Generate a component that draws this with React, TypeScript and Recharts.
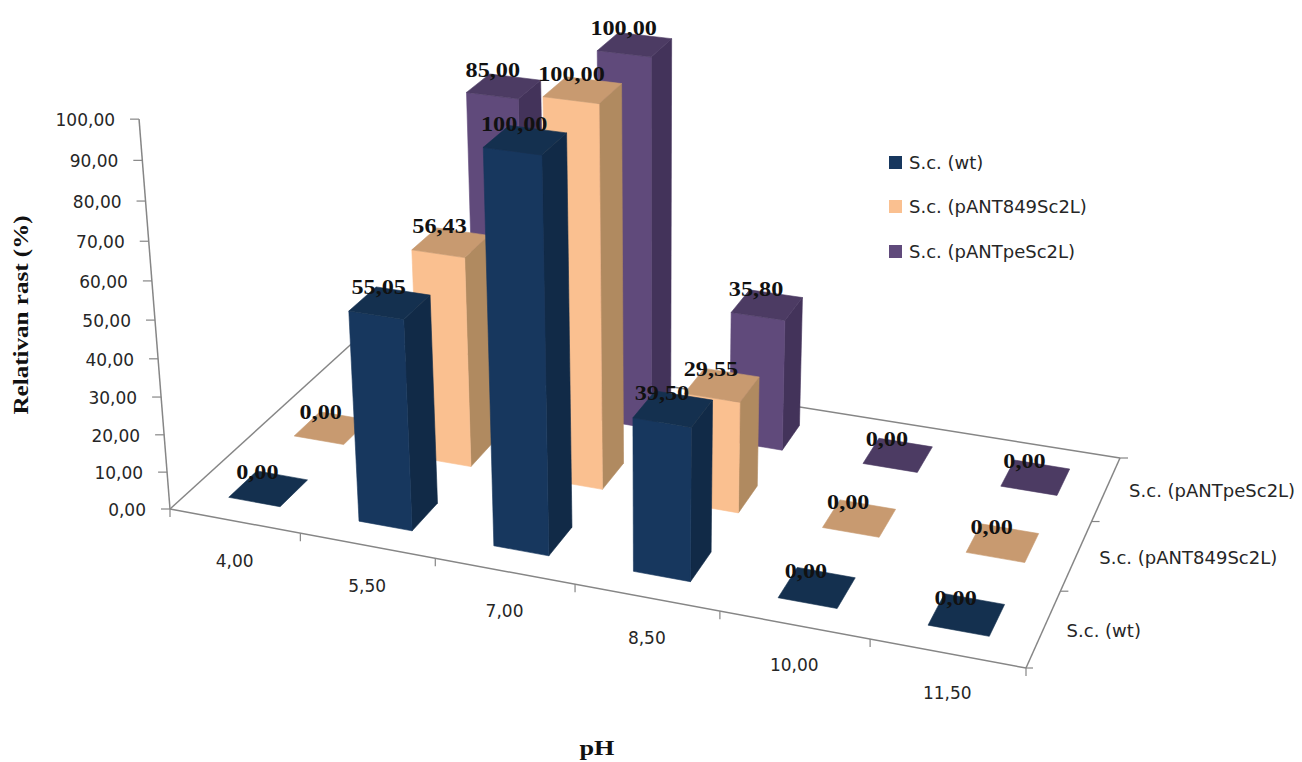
import React from "react";
import { BarChart, Bar, XAxis, YAxis, Legend, Customized } from "recharts";

// Chart content
const phLabels = ["4,00", "5,50", "7,00", "8,50", "10,00", "11,50"];
const wtValues = [0, 55.05, 100, 39.5, 0, 0];
const pant849Values = [0, 56.43, 100, 29.55, 0, 0];
const pantpeValues = [0, 85, 100, 35.8, 0, 0];
const seriesNames = ["S.c. (wt)", "S.c. (pANT849Sc2L)", "S.c. (pANTpeSc2L)"];
const valueTicks = [0, 10, 20, 30, 40, 50, 60, 70, 80, 90, 100];

const rows = phLabels.map((ph, i) => ({
  ph,
  wt: wtValues[i],
  p849: pant849Values[i],
  ppe: pantpeValues[i],
}));

// Face colours for each series: front, top, side
const faces = [
  { front: "#17375e", top: "#14304f", side: "#112a47" },
  { front: "#fac090", top: "#c89a70", side: "#b08a60" },
  { front: "#604a7b", top: "#4c3b63", side: "#43335a" },
];

const W = 1302;
const H = 762;
const plot = { left: 100, top: 100, width: 1100, height: 560 };
const BAR_DEPTH = 0.42; // footprint along the depth axis, as a share of a depth slot

// Perspective camera: the floor quad plus the direction of the value axis.
const quad = { ax: 170, ay: 509, bx: 1026, by: 668, cx: 1120, cy: 458, dx: 359, dy: 337 };
const up = { x: -39.3, y: -397, w: -0.06 };

const den =
  (quad.bx - quad.cx) * (quad.dy - quad.cy) - (quad.dx - quad.cx) * (quad.by - quad.cy);
const sx = quad.ax - quad.bx + quad.cx - quad.dx;
const sy = quad.ay - quad.by + quad.cy - quad.dy;
const g = (sx * (quad.dy - quad.cy) - (quad.dx - quad.cx) * sy) / den;
const k = ((quad.bx - quad.cx) * sy - sx * (quad.by - quad.cy)) / den;
const a = quad.bx - quad.ax + g * quad.bx;
const b = quad.dx - quad.ax + k * quad.dx;
const d = quad.by - quad.ay + g * quad.by;
const e = quad.dy - quad.ay + k * quad.dy;

type Pt = [number, number];
const project = (u: number, v: number, h: number): Pt => {
  const w = g * u + k * v + up.w * h + 1;
  return [
    (a * u + b * v + up.x * h + quad.ax) / w,
    (d * u + e * v + up.y * h + quad.ay) / w,
  ];
};
const pts = (list: Pt[]) => list.map((p) => p.join(",")).join(" ");
const comma = (n: number) => n.toFixed(2).replace(".", ",");

const SANS = "'DejaVu Sans', sans-serif";
const SERIF = "'Liberation Serif', serif";
const AXIS = "#868686";
const TEXT = "#262626";

// One prism with its value printed over the top face, from the rectangle
// the bar scale computed for a datum. Drawing the text here keeps it in the
// same paint layer, so nearer prisms hide labels standing behind them.
const Prism = (series: number) => (props: any) => {
  const { x, width, height, value } = props;
  const u0 = (x - plot.left) / plot.width;
  const u1 = (x + width - plot.left) / plot.width;
  const h = height / plot.height;
  const v0 = (series + 0.5 - BAR_DEPTH / 2) / 3;
  const v1 = (series + 0.5 + BAR_DEPTH / 2) / 3;
  const c = faces[series];
  const shown = Array.isArray(value) ? value[1] - value[0] : value;
  const [lx, ly] = project((u0 + u1) / 2, (series + 0.5) / 3, h);
  return (
    <g>
      {h > 0 && (
        <polygon
          points={pts([project(u1, v0, 0), project(u1, v1, 0), project(u1, v1, h), project(u1, v0, h)])}
          fill={c.side}
          stroke={c.side}
          strokeWidth={0.6}
        />
      )}
      {h > 0 && (
        <polygon
          points={pts([project(u0, v0, 0), project(u1, v0, 0), project(u1, v0, h), project(u0, v0, h)])}
          fill={c.front}
          stroke={c.front}
          strokeWidth={0.6}
        />
      )}
      <polygon
        points={pts([project(u0, v0, h), project(u1, v0, h), project(u1, v1, h), project(u0, v1, h)])}
        fill={c.top}
        stroke={c.top}
        strokeWidth={0.6}
      />
      <text
        transform={`translate(${lx - 11},${ly - 17}) scale(1.1,1)`}
        dy="0.35em"
        textAnchor="middle"
        fontFamily={SERIF}
        fontWeight="bold"
        fontSize={22}
        fill="#111"
      >
        {comma(Number(shown))}
      </text>
    </g>
  );
};

const PhTick = (props: any) => {
  const { x, payload } = props;
  const u = (x - plot.left) / plot.width;
  const half = 0.5 / phLabels.length;
  const [tx, ty] = project(u + half, 0, 0);
  const [mx, my] = project(u, 0, 0);
  return (
    <g>
      <line x1={tx} y1={ty} x2={tx} y2={ty + 8} stroke={AXIS} strokeWidth={1.2} />
      <text x={mx} y={my + 40} dy="0.35em" textAnchor="middle" fontFamily={SANS} fontSize={17} fill={TEXT}>
        {payload.value}
      </text>
    </g>
  );
};

const ValueTick = (props: any) => {
  const { y, payload } = props;
  const h = (plot.top + plot.height - y) / plot.height;
  const [px, py] = project(0, 0, h);
  return (
    <g>
      <line x1={px - 9} y1={py} x2={px} y2={py} stroke={AXIS} strokeWidth={1.2} />
      <text x={px - 24} y={py + 1} dy="0.35em" textAnchor="end" fontFamily={SANS} fontSize={17} fill={TEXT}>
        {comma(Number(payload.value))}
      </text>
    </g>
  );
};

// Floor outline, value axis, depth axis and the two axis titles
const Frame = () => {
  const edge = (p: Pt, q: Pt, key: string) => (
    <line key={key} x1={p[0]} y1={p[1]} x2={q[0]} y2={q[1]} stroke={AXIS} strokeWidth={1.5} />
  );
  return (
    <g>
      {edge(project(0, 0, 0), project(1, 0, 0), "front")}
      {edge(project(1, 0, 0), project(1, 1, 0), "right")}
      {edge(project(1, 1, 0), project(0, 1, 0), "back")}
      {edge(project(0, 1, 0), project(0, 0, 0), "left")}
      {edge(project(0, 0, 0), project(0, 0, 1), "value")}
      {seriesNames.map((name, i) => {
        const [mx, my] = project(1, (i + 0.5) / 3, 0);
        const [tx, ty] = project(1, (i + 1) / 3, 0);
        return (
          <g key={name}>
            <line x1={tx} y1={ty} x2={tx + 8} y2={ty} stroke={AXIS} strokeWidth={1.2} />
            <text x={mx + 23} y={my + 2} dy="0.35em" fontFamily={SANS} fontSize={18} fill={TEXT}>
              {name}
            </text>
          </g>
        );
      })}
      <line x1={quad.bx} y1={quad.by} x2={quad.bx + 7} y2={quad.by} stroke={AXIS} strokeWidth={1.2} />
      <line x1={quad.ax} y1={quad.ay} x2={quad.ax} y2={quad.ay + 8} stroke={AXIS} strokeWidth={1.2} />
      <text
        transform="translate(20,315) rotate(-90) scale(1.14,1)"
        dy="0.35em"
        textAnchor="middle"
        fontFamily={SERIF}
        fontWeight="bold"
        fontSize={22}
        fill="#111"
      >
        Relativan rast (%)
      </text>
      <text
        transform="translate(597,755) scale(1.25,1)"
        textAnchor="middle"
        fontFamily={SERIF}
        fontWeight="bold"
        fontSize={21}
        fill="#111"
      >
        pH
      </text>
    </g>
  );
};

const LegendBox = ({ payload }: any) => {
  const items = [...(payload ?? [])].sort(
    (p: any, q: any) => seriesNames.indexOf(p.value) - seriesNames.indexOf(q.value),
  );
  return (
    <div>
      {items.map((item: any) => (
        <div key={item.value} style={{ display: "flex", alignItems: "center", height: 44.5 }}>
          <span style={{ width: 13, height: 13, background: item.color, marginRight: 7 }} />
          <span style={{ fontFamily: SANS, fontSize: 18, color: TEXT }}>{item.value}</span>
        </div>
      ))}
    </div>
  );
};

const series = [
  { key: "ppe", idx: 2 },
  { key: "p849", idx: 1 },
  { key: "wt", idx: 0 },
];

export default function App() {
  return (
    <div style={{ position: "absolute", left: 0, top: 0 }}>
      <BarChart
        width={W}
        height={H}
        data={rows}
        barCategoryGap="30%"
        margin={{
          left: plot.left - 1,
          top: plot.top,
          right: W - plot.left - plot.width,
          bottom: H - plot.top - plot.height - 1,
        }}
      >
        <Customized component={<Frame />} />
        <XAxis xAxisId="a" dataKey="ph" height={1} axisLine={false} tickLine={false} tick={<PhTick />} interval={0} />
        <XAxis xAxisId="b" dataKey="ph" hide />
        <XAxis xAxisId="c" dataKey="ph" hide />
        <YAxis
          width={1}
          domain={[0, 100]}
          ticks={valueTicks}
          axisLine={false}
          tickLine={false}
          tick={<ValueTick />}
          interval={0}
        />
        {series.map((s, n) => (
          <Bar
            key={s.key}
            dataKey={s.key}
            name={seriesNames[s.idx]}
            fill={faces[s.idx].front}
            xAxisId={["a", "b", "c"][n]}
            shape={Prism(s.idx)}
            isAnimationActive={false}
          />
        ))}
        <Legend
          layout="vertical"
          align="center"
          verticalAlign="middle"
          content={<LegendBox />}
          wrapperStyle={{ left: 889, top: 140, width: 260, height: 134 }}
        />
      </BarChart>
    </div>
  );
}
